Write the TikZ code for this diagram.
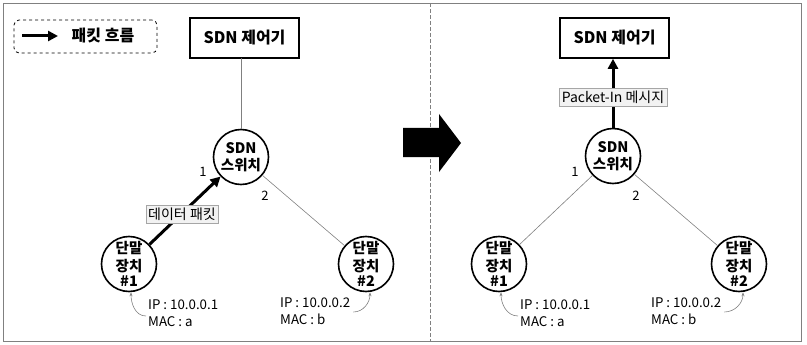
\documentclass[tikz,border=0pt]{standalone}
\usepackage{fontspec}
\setmainfont{Noto Sans CJK KR}
\usetikzlibrary{arrows.meta}
\tikzset{ctrl/.style={draw, line width=1.6pt, minimum width=109pt, minimum height=40pt, font=\fontsize{16}{18}\selectfont\bfseries}}
\tikzset{dev/.style={draw, circle, line width=1.6pt, minimum size=55pt, inner sep=0pt, align=center, font=\fontsize{14.5}{17.5}\selectfont\bfseries}}
\tikzset{msg/.style={draw=gray!70, fill=gray!10, inner sep=2.5pt, font=\fontsize{14}{15}\selectfont}}
\tikzset{link/.style={gray, line width=0.6pt}}
\tikzset{flow/.style={line width=3pt, -{Triangle[length=10pt,width=10pt]}}}
\tikzset{addr/.style={align=left, anchor=west, inner sep=0pt, font=\fontsize{13.3}{17}\selectfont}}
\tikzset{note/.style={gray, line width=0.6pt, -{Stealth[length=4pt,width=3pt]}}}
\tikzset{port/.style={font=\fontsize{13}{14}\selectfont}}

\begin{document}
\begin{tikzpicture}[x=1pt, y=-1pt]
	\useasboundingbox (0,0) rectangle (807,345);
	\draw[gray, line width=0.8pt] (3,3) rectangle (801,341);
	\draw[gray, dash pattern=on 4pt off 2pt] (430,3) -- (430,341);

	% legend
	\node[draw, dashed, rounded corners=5pt, line width=0.8pt, minimum width=143pt, minimum height=33pt] (key) at (85.5,36.5) {};
	\coordinate (ka) at (22,36);
	\coordinate (kb) at (58,36);
	\draw[flow] (ka) -- (kb);
	\node[font=\fontsize{16}{18}\selectfont\bfseries] (keytxt) at (103,36) {패킷 흐름};

	% left: before
	\node[ctrl] (ctrl1) at (244.5,38) {SDN 제어기};
	\node[dev] (sw1) at (241,157) {SDN\\스위치};
	\node[dev] (dev1a) at (129,264) {단말\\장치\\[-2pt]\#1};
	\node[dev] (dev2a) at (366,264) {단말\\장치\\[-2pt]\#2};

	\draw[link] (ctrl1) -- (sw1 |- ctrl1.south) -- (sw1);
	\draw[link] (sw1) -- (dev2a);
	\draw[flow] (dev1a) -- (sw1);
	\node[msg] (data) at (182,214) {데이터 패킷};

	\node[port] (p1a) at (203,172) {1};
	\node[port] (p2a) at (265,196) {2};

	\node[addr] (ip1a) at (148,313) {IP : 10.0.0.1\\MAC : a};
	\node[addr] (ip2a) at (280,311) {IP : 10.0.0.2\\MAC : b};
	\draw[note] ([xshift=-2pt,yshift=-3pt]ip1a.west) to[out=180, in=-90] ([xshift=2pt]dev1a.south);
	\draw[note] ([xshift=3pt,yshift=-1pt]ip2a.east) to[out=0, in=-90] ([xshift=4pt]dev2a.south);

	% big arrow
	\fill (403,128) -- (439,128) -- (439,114) -- (461,143) -- (439,172) -- (439,157) -- (403,157) -- cycle;

	% right: after
	\node[ctrl] (ctrl2) at (614.5,38) {SDN 제어기};
	\node[dev] (sw2) at (613,156) {SDN\\스위치};
	\node[dev] (dev1b) at (499,264) {단말\\장치\\[-2pt]\#1};
	\node[dev] (dev2b) at (739,264) {단말\\장치\\[-2pt]\#2};

	\draw[link] (sw2) -- (dev1b);
	\draw[link] (sw2) -- (dev2b);
	\draw[flow] (sw2) -- (sw2 |- ctrl2.south);
	\node[msg] (pin) at (613,97) {Packet-In 메시지};

	\node[port] (p1b) at (575,172) {1};
	\node[port] (p2b) at (636,196) {2};

	\node[addr] (ip1b) at (520,313) {IP : 10.0.0.1\\MAC : a};
	\node[addr] (ip2b) at (651,311) {IP : 10.0.0.2\\MAC : b};
	\draw[note] ([xshift=-2pt,yshift=-3pt]ip1b.west) to[out=180, in=-90] ([xshift=2pt]dev1b.south);
	\draw[note] ([xshift=3pt,yshift=-1pt]ip2b.east) to[out=0, in=-90] ([xshift=4pt]dev2b.south);
\end{tikzpicture}
\end{document}
